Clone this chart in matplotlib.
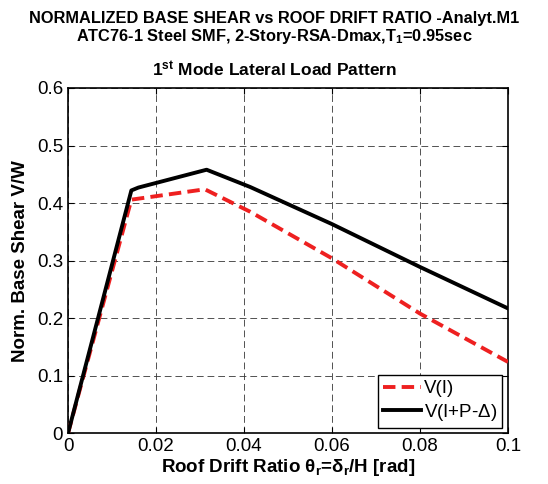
import numpy as np
import matplotlib.pyplot as plt

plt.rcParams['font.family'] = ['Liberation Sans', 'DejaVu Sans']
plt.rcParams['mathtext.fontset'] = 'custom'
plt.rcParams['mathtext.rm'] = 'Liberation Sans'
plt.rcParams['mathtext.it'] = 'Liberation Sans:italic'
plt.rcParams['mathtext.bf'] = 'Liberation Sans:bold'

# pushover curves: roof drift ratio vs normalized base shear

drift_no_pdelta = [0.0, 0.0144, 0.0311, 0.0414, 0.06, 0.08, 0.1]
shear_no_pdelta = [0.0, 0.406, 0.424, 0.385, 0.304, 0.208, 0.124]

drift_pdelta = [0.0, 0.0144, 0.0160, 0.0315, 0.0414, 0.06, 0.08, 0.1]
shear_pdelta = [0.0, 0.422, 0.427, 0.458, 0.428, 0.3635, 0.289, 0.217]

x_ticks = [0, 0.02, 0.04, 0.06, 0.08, 0.1]
x_tick_labels = ['0', '0.02', '0.04', '0.06', '0.08', '0.1']
y_ticks = [0, 0.1, 0.2, 0.3, 0.4, 0.5, 0.6]
y_tick_labels = ['0', '0.1', '0.2', '0.3', '0.4', '0.5', '0.6']

fig = plt.figure(figsize=(5.48, 4.84), dpi=100)
ax = fig.add_axes([68 / 548, 1 - 433.3 / 484, 440 / 548, 345.3 / 484])

ax.plot(drift_no_pdelta, shear_no_pdelta, color='#ee2020', linestyle=(0, (3.2, 1.6)),
        linewidth=2.8, label='V(I)', zorder=3)
ax.plot(drift_pdelta, shear_pdelta, color='black', linewidth=2.8,
        label='V(I+P-$\\Delta$)', zorder=4)

ax.set_xlim(0, 0.1)
ax.set_ylim(0, 0.6)
ax.set_xticks(x_ticks)
ax.set_xticklabels(x_tick_labels)
ax.set_yticks(y_ticks)
ax.set_yticklabels(y_tick_labels)
ax.tick_params(direction='in', top=True, right=True, labelsize=13.5, length=4, width=0.8)
ax.grid(True, color='#333333', linestyle=(0, (7, 4)), linewidth=0.7, alpha=0.85)
for s in ax.spines.values():
    s.set_linewidth(1.2)

ax.set_xlabel('Roof Drift Ratio $\\mathbf{\\theta_r}$=$\\mathbf{\\delta_r}$/H [rad]',
              fontsize=13.5, weight='bold', labelpad=1)
ax.set_ylabel('Norm. Base Shear V/W', fontsize=13.5, weight='bold', labelpad=6)

fig.text(0.5, 1 - 18 / 484, 'NORMALIZED BASE SHEAR vs ROOF DRIFT RATIO -Analyt.M1',
         ha='center', va='center', fontsize=11.8, weight='bold')
fig.text(0.5, 1 - 37 / 484, 'ATC76-1 Steel SMF, 2-Story-RSA-Dmax,T$_\\mathbf{1}$=0.95sec',
         ha='center', va='center', fontsize=11.8, weight='bold')
fig.text(0.5, 1 - 69 / 484, '1$^\\mathbf{st}$ Mode Lateral Load Pattern',
         ha='center', va='center', fontsize=12.5, weight='bold')

leg = ax.legend(loc='lower right', fontsize=13.5, frameon=True, fancybox=False,
                edgecolor='black', framealpha=1, handlelength=2.0, handletextpad=0.2,
                borderpad=0.25, labelspacing=0.25, borderaxespad=0.3)
leg.get_frame().set_linewidth(1.0)

fig.savefig('out.png', dpi=100)
